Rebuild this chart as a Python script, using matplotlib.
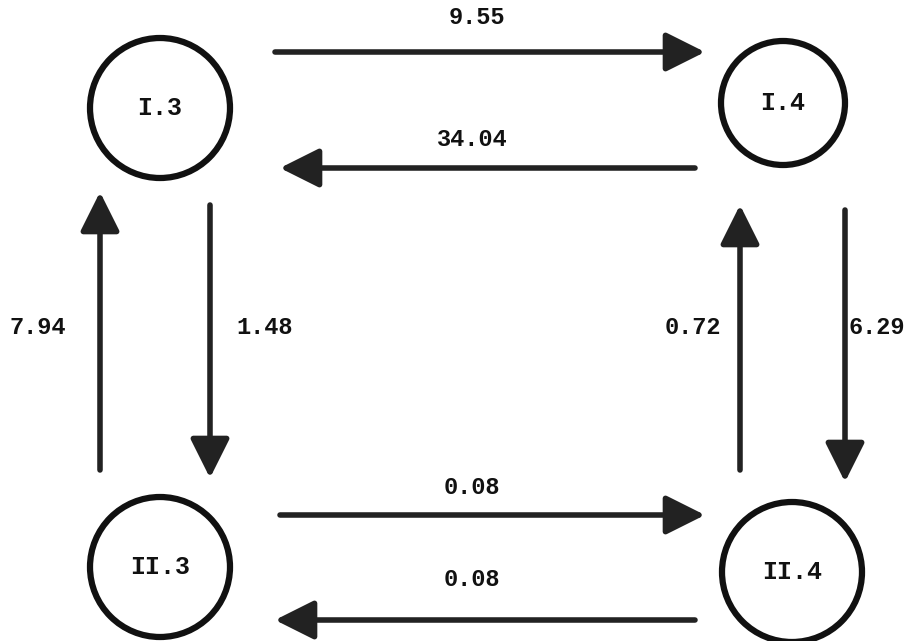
import matplotlib.pyplot as plt
from matplotlib.patches import Circle, FancyArrowPatch

# nodes and flows
nodes = ['I.3', 'I.4', 'II.3', 'II.4']
flows = [('I.3', 'I.4', '9.55'),
         ('I.4', 'I.3', '34.04'),
         ('II.3', 'I.3', '7.94'),
         ('I.3', 'II.3', '1.48'),
         ('II.4', 'I.4', '0.72'),
         ('I.4', 'II.4', '6.29'),
         ('II.3', 'II.4', '0.08'),
         ('II.4', 'II.3', '0.08')]

# layout (pixel space)
pos = {'I.3': (160, 108), 'I.4': (783, 103), 'II.3': (160, 567), 'II.4': (792, 572)}
rad = {'I.3': 70, 'I.4': 62, 'II.3': 70, 'II.4': 70}

# arrow start/end and label position for each flow
arrow_geom = [((275, 52), (705, 52), (477, 18)),
              ((695, 168), (280, 168), (472, 140)),
              ((100, 470), (100, 192), (38, 328)),
              ((210, 205), (210, 478), (265, 328)),
              ((740, 470), (740, 205), (693, 328)),
              ((845, 210), (845, 482), (877, 328)),
              ((280, 515), (705, 515), (472, 487)),
              ((695, 620), (275, 620), (472, 580))]

font = ['Liberation Mono', 'DejaVu Sans Mono']

fig = plt.figure(figsize=(9.2, 6.41), dpi=100)
ax = fig.add_axes([0, 0, 1, 1])
ax.set_xlim(0, 920)
ax.set_ylim(641, 0)
ax.set_aspect('equal')
ax.axis('off')

for n in nodes:
    ax.add_patch(Circle(pos[n], rad[n], fill=False, lw=4.5, ec='#111111'))
    ax.text(pos[n][0], pos[n][1], n, ha='center', va='center',
            fontsize=18, family=font, weight='bold', color='#111111')

for (src, dst, val), (p0, p1, lp) in zip(flows, arrow_geom):
    ax.add_patch(FancyArrowPatch(p0, p1, arrowstyle='-|>,head_length=1.5,head_width=0.75',
                                 mutation_scale=16, lw=4, color='#222222',
                                 shrinkA=0, shrinkB=0))
    ax.text(lp[0], lp[1], val, ha='center', va='center',
            fontsize=17, family=font, weight='bold', color='#111111')

fig.savefig('out.png', dpi=100)
